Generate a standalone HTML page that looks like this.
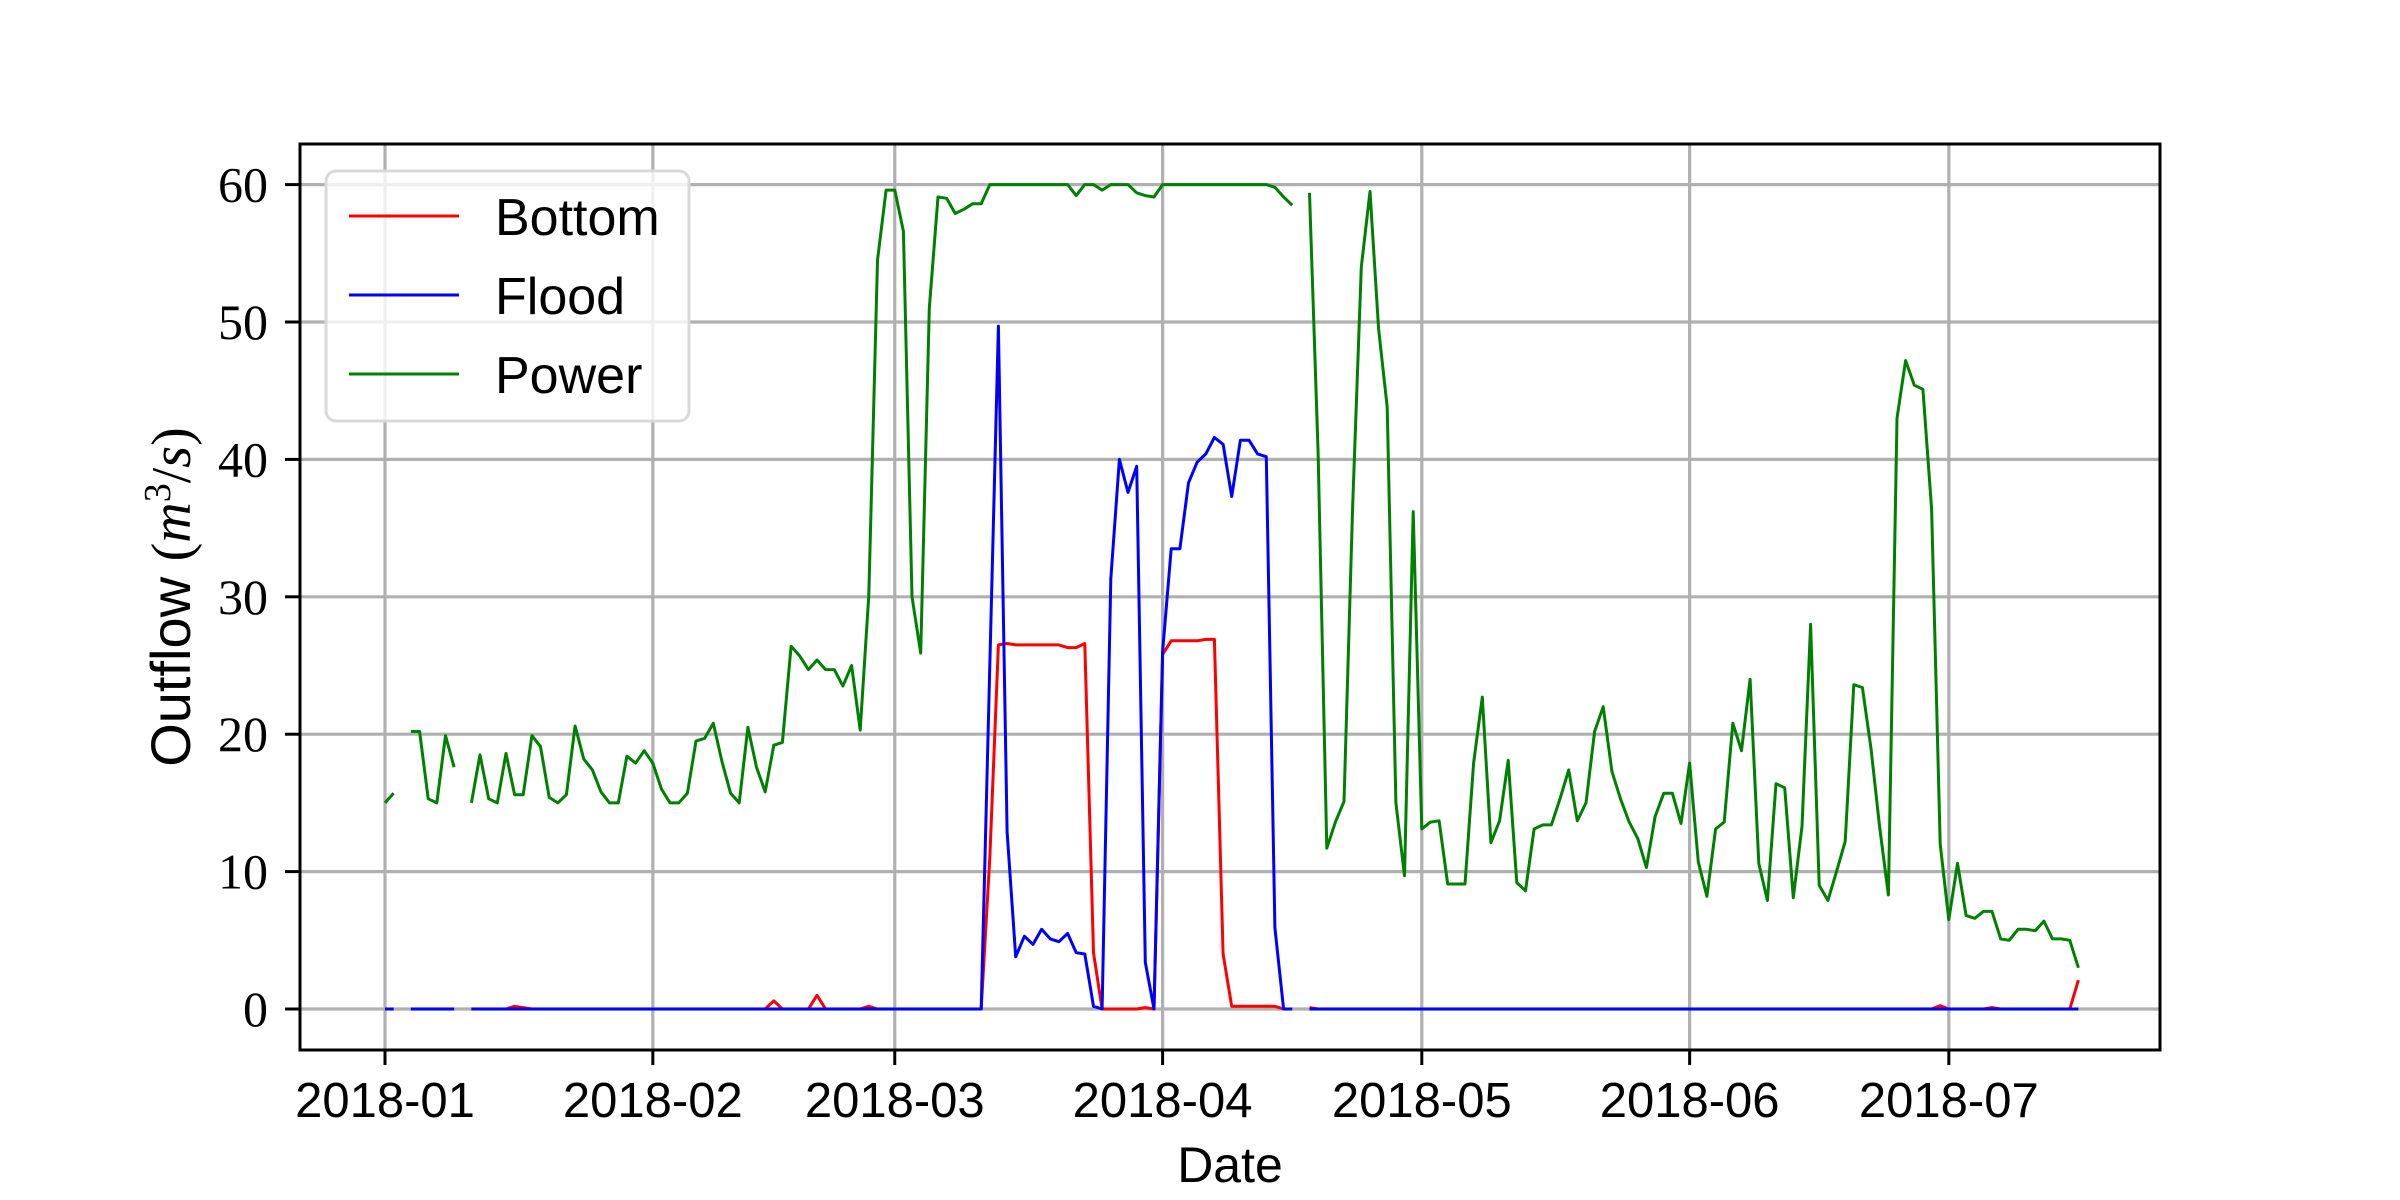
<!DOCTYPE html>
<html><head><meta charset="utf-8">
<style>
html,body{margin:0;padding:0;background:#fff;}
svg{display:block;}
</style></head>
<body>
<svg id="chart" width="2400" height="1200" viewBox="0 0 2400 1200" xmlns="http://www.w3.org/2000/svg">
</svg>
<script>
const startDate = "2018-01-01";
const xTickLabels = ["2018-01","2018-02","2018-03","2018-04","2018-05","2018-06","2018-07"];
const xTickDays = [0,31,59,90,120,151,181];
const yTickValues = [0,10,20,30,40,50,60];
const seriesNames = ["Bottom","Flood","Power"];
const N = null;
const powerValues = [15.0,15.7,N,20.2,20.2,15.3,15.0,19.9,17.6,N,
15.0,18.5,15.3,15.0,18.6,15.6,15.6,19.9,19.1,15.4,
15.0,15.6,20.6,18.2,17.4,15.8,15.0,15.0,18.4,17.9,
18.8,17.9,16.0,15.0,15.0,15.7,19.5,19.7,20.8,18.0,
15.7,15.0,20.5,17.6,15.8,19.2,19.4,26.4,25.7,24.7,
25.4,24.7,24.7,23.5,25.0,20.3,30.1,54.5,59.6,59.6,
56.6,30.0,25.9,51.0,59.1,59.0,57.9,58.2,58.6,58.6,
60,60,60,60,60,60,60,60,60,60,
59.2,60,60,59.6,60,60,60,59.4,59.2,59.1,
60,60,60,60,60,60,60,60,60,60,
60,60,60,59.8,59.1,58.5,N,59.4,40.5,11.7,
13.6,15.1,36.7,54.0,59.5,49.5,43.8,15.0,9.7,36.2,
13.1,13.6,13.7,9.1,9.1,9.1,17.9,22.7,12.1,13.7,
18.1,9.2,8.6,13.1,13.4,13.4,15.3,17.4,13.7,15.0,
20.2,22.0,17.3,15.3,13.6,12.4,10.3,14.0,15.7,15.7,
13.5,17.9,10.7,8.2,13.1,13.6,20.8,18.8,24.0,10.6,
7.9,16.4,16.1,8.1,13.3,28.0,9.0,7.9,10.0,12.2,
23.6,23.4,18.9,13.2,8.3,43.0,47.2,45.4,45.1,36.4,
12.0,6.5,10.6,6.8,6.6,7.1,7.1,5.1,5.0,5.8,
5.8,5.7,6.4,5.1,5.1,5.0,3.0];
const bottomValues = [0,0,N,0,0,0,0,0,0,N,
0,0,0,0,0,0.2,0.1,0,0,0,
0,0,0,0,0,0,0,0,0,0,
0,0,0,0,0,0,0,0,0,0,
0,0,0,0,0,0.6,0,0,0,0,
1.0,0,0,0,0,0,0.2,0,0,0,
0,0,0,0,0,0,0,0,0,0,
11,26.5,26.6,26.5,26.5,26.5,26.5,26.5,26.5,26.3,
26.3,26.6,4.1,0,0,0,0,0,0.1,0,
25.8,26.8,26.8,26.8,26.8,26.9,26.9,4.0,0.2,0.2,
0.2,0.2,0.2,0.2,0,0,N,0.1,0,0,
0,0,0,0,0,0,0,0,0,0,
0,0,0,0,0,0,0,0,0,0,
0,0,0,0,0,0,0,0,0,0,
0,0,0,0,0,0,0,0,0,0,
0,0,0,0,0,0,0,0,0,0,
0,0,0,0,0,0,0,0,0,0,
0,0,0,0,0,0,0,0,0,0,
0.25,0,0,0,0,0,0.1,0,0,0,
0,0,0,0,0,0,2.1];
const floodValues = [0,0,N,0,0,0,0,0,0,N,
0,0,0,0,0,0,0,0,0,0,
0,0,0,0,0,0,0,0,0,0,
0,0,0,0,0,0,0,0,0,0,
0,0,0,0,0,0,0,0,0,0,
0,0,0,0,0,0,0,0,0,0,
0,0,0,0,0,0,0,0,0,0,
25,49.7,12.9,3.8,5.3,4.7,5.8,5.1,4.9,5.5,
4.1,4.0,0.2,0,31.3,40.0,37.6,39.5,3.4,0,
26,33.5,33.5,38.3,39.8,40.4,41.6,41.1,37.3,41.4,
41.4,40.4,40.2,5.9,0,0,N,0,0,0,
0,0,0,0,0,0,0,0,0,0,
0,0,0,0,0,0,0,0,0,0,
0,0,0,0,0,0,0,0,0,0,
0,0,0,0,0,0,0,0,0,0,
0,0,0,0,0,0,0,0,0,0,
0,0,0,0,0,0,0,0,0,0,
0,0,0,0,0,0,0,0,0,0,
0,0,0,0,0,0,0,0,0,0,
0,0,0,0,0,0,0];

const svg = document.getElementById('chart');
const NS = 'http://www.w3.org/2000/svg';
const AX = {l:300, r:2160, t:144, b:1050};
const X0 = 385, PXDAY = 8.64;
const Y0 = 1009, PXUNIT = 13.74;
function xScale(d){ return X0 + d*PXDAY; }
function yScale(v){ return Y0 - v*PXUNIT; }
function mk(tag, attrs){ const e=document.createElementNS(NS,tag); for(const k in attrs) e.setAttribute(k,attrs[k]); svg.appendChild(e); return e; }

// grid
xTickDays.forEach((d,i)=>{
  const g = mk('line',{x1:xScale(d),x2:xScale(d),y1:AX.t,y2:AX.b,stroke:'#b0b0b0','stroke-width':3.2});
  
  
});
yTickValues.forEach(v=>{
  const g = mk('line',{x1:AX.l,x2:AX.r,y1:yScale(v),y2:yScale(v),stroke:'#b0b0b0','stroke-width':3.2});
  
  
});

// series
const colors = ['#ff0000','#0000ff','#008000'];
const allSeries = [bottomValues, floodValues, powerValues];
const order = [2,0,1];
order.forEach(si=>{
  const vals = allSeries[si];
  let d = '', pen = false;
  vals.forEach((v,i)=>{
    if(v===null){ pen=false; return; }
    d += (pen?'L':'M') + xScale(i).toFixed(1) + ' ' + yScale(v).toFixed(1) + ' ';
    pen = true;
  });
  const p = mk('path',{d:d,fill:'none',stroke:colors[si],'stroke-width':3,'stroke-linejoin':'round'});
  
  
});

// axes frame
const frame = mk('rect',{x:AX.l,y:AX.t,width:AX.r-AX.l,height:AX.b-AX.t,fill:'none',stroke:'#000','stroke-width':3});



// ticks & labels
xTickDays.forEach((d,i)=>{
  const t = mk('line',{x1:xScale(d),x2:xScale(d),y1:AX.b,y2:AX.b+15,stroke:'#000','stroke-width':3});
  
  
  const lb = mk('text',{x:xScale(d),y:1117,'text-anchor':'middle','font-family':'"Liberation Sans", "DejaVu Sans", sans-serif','font-size':49});
  lb.textContent = xTickLabels[i];
  
  
});
yTickValues.forEach(v=>{
  const t = mk('line',{x1:AX.l-15,x2:AX.l,y1:yScale(v),y2:yScale(v),stroke:'#000','stroke-width':3});
  
  
  const lb = mk('text',{x:268,y:yScale(v)+17,'text-anchor':'end','font-family':'"Liberation Serif", serif','font-size':50});
  lb.textContent = String(v);
  
  
});

// axis titles
const xt = mk('text',{x:1230,y:1182,'text-anchor':'middle','font-family':'"Liberation Sans", sans-serif','font-size':50});
xt.textContent = 'Date';


const yt = mk('text',{x:0,y:0,'text-anchor':'middle','font-family':'"Liberation Sans", sans-serif','font-size':56,transform:'translate(190,597) rotate(-90)'});
yt.innerHTML = 'Outflow <tspan font-family="Liberation Serif, serif">(</tspan><tspan font-family="Liberation Serif, serif" font-style="italic">m</tspan><tspan font-family="Liberation Serif, serif" font-size="38" dy="-20">3</tspan><tspan font-family="Liberation Serif, serif" dy="20">/</tspan><tspan font-family="Liberation Serif, serif" font-style="italic">s</tspan><tspan font-family="Liberation Serif, serif">)</tspan>';



// legend
const lg = mk('rect',{x:326,y:171,width:363,height:250,rx:10,fill:'#fff','fill-opacity':0.8,stroke:'#d9d9d9','stroke-width':3});


const legendY = [216,295,374];
seriesNames.forEach((n,i)=>{
  const l = mk('line',{x1:349,x2:459,y1:legendY[i],y2:legendY[i],stroke:colors[i],'stroke-width':3});
  
  
  const t = mk('text',{x:495,y:legendY[i]+19,'font-family':'"Liberation Sans", sans-serif','font-size':52});
  t.textContent = n;
  
  
});
</script>
</body></html>
